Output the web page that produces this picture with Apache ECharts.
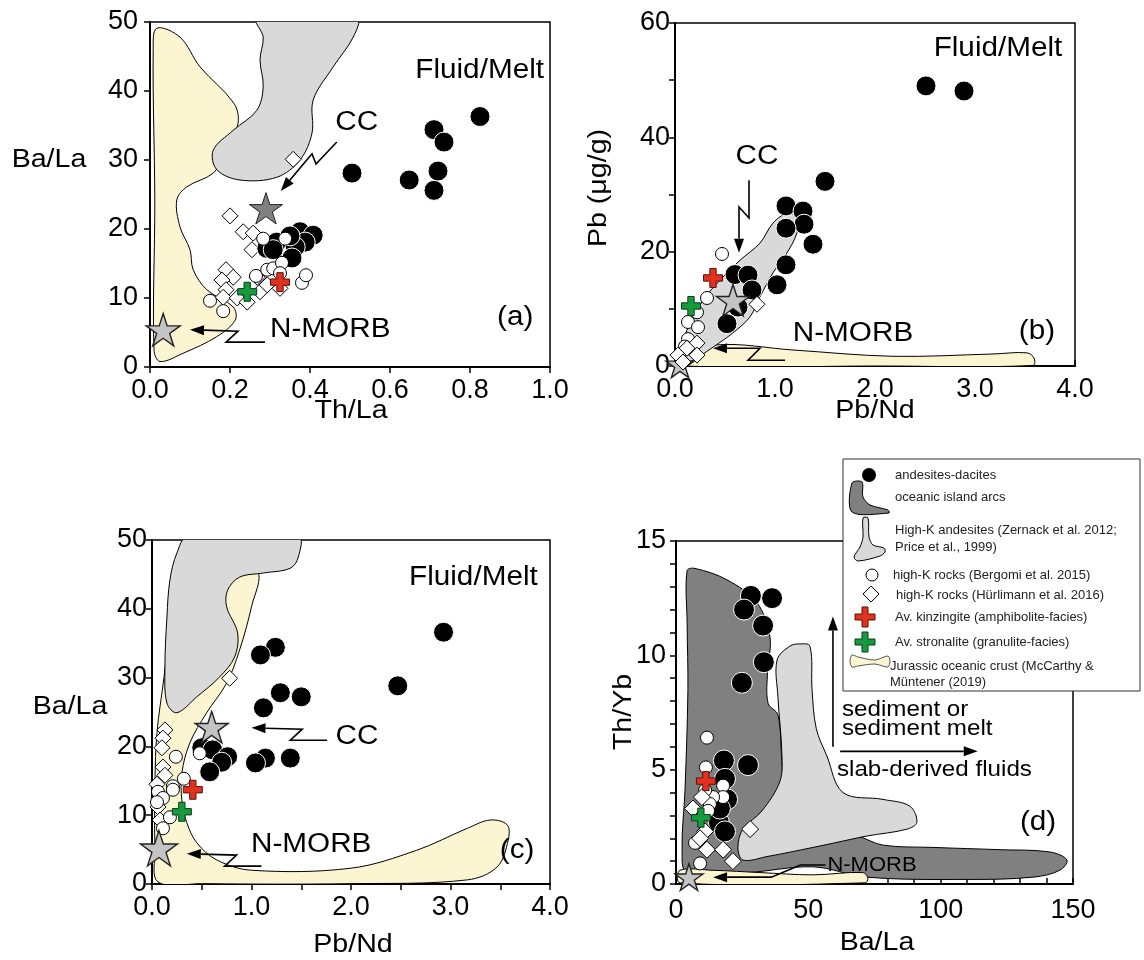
<!DOCTYPE html>
<html>
<head>
<meta charset="utf-8">
<script src="https://cdn.jsdelivr.net/npm/echarts@6/dist/echarts.min.js"></script>
<style>
  html, body { margin: 0; padding: 0; background: #fff; }
  #chart { width: 1144px; height: 960px; }
</style>
</head>
<body>
<div id="chart"></div>
<script>
// ---------- (a) Th/La vs Ba/La ----------
const aBlack = [[0.505,28.1],[0.648,27.1],[0.71,34.4],[0.735,32.6],[0.72,28.4],[0.71,25.6],[0.825,36.3],
  [0.292,17.2],[0.317,18.1],[0.375,19.6],[0.408,19.1],[0.388,18.1],[0.363,17.4],[0.355,15.8],[0.308,17.0],[0.35,19.0]];
const aWhite = [[0.15,9.6],[0.183,8.1],[0.283,18.6],[0.338,18.6],[0.265,13.2],[0.293,14.1],[0.308,14.3],
  [0.33,15.1],[0.38,12.2],[0.39,13.3],[0.325,13.6]];
const aDiamond = [[0.358,30.1],[0.2,21.9],[0.233,19.6],[0.258,19.4],[0.255,17.0],[0.19,14.1],[0.208,13.0],
  [0.18,12.6],[0.19,11.2],[0.183,10.1],[0.218,10.0],[0.243,9.4],[0.275,10.9],[0.293,11.9],[0.325,11.4],[0.268,13.0]];
const aKinzingite = [[0.325,12.3]];
const aStronalite = [[0.243,10.9]];
const aCC = [[0.29,23.0]];
const aNMORB = [[0.033,5.4]];
const aJurassic = [[0.017,49.1],[0.075,47.8],[0.125,43.5],[0.21,38.2],[0.22,35.3],[0.19,31],[0.158,28.1],
  [0.092,26.1],[0.067,24.2],[0.075,20.3],[0.1,17],[0.108,14.1],[0.142,11.2],[0.208,8.7],[0.213,6.8],
  [0.167,4.4],[0.083,2.0],[0.025,0.8],[0.01,2.5],[0.012,24],[0.008,46]];
const aHighK = [[0.267,50.5],[0.517,50.5],[0.508,47.8],[0.458,43.5],[0.408,38.7],[0.405,33.9],[0.375,30],
  [0.317,27.5],[0.225,27.1],[0.167,28.6],[0.158,31.4],[0.208,34.3],[0.267,37.2],[0.283,40.6],[0.275,44.5],[0.283,47.8]];

// ---------- (b) Pb/Nd vs Pb ----------
const bBlack = [[2.51,49],[2.89,48.1],[1.5,32.3],[1.11,28],[1.28,27.1],[1.29,24.8],[1.11,24.1],[1.38,21.3],
  [1.11,17.7],[1.02,14.2],[0.6,16.0],[0.73,15.9],[0.77,13.3],[0.63,10.3],[0.52,7.4]];
const bWhite = [[0.47,19.6],[0.32,11.9],[0.22,9.4],[0.13,7.7],[0.23,6.8],[0.13,4.7],[0.1,3.4]];
const bDiamond = [[0.82,10.8],[0.22,4.0],[0.12,3.1],[0.22,1.9],[0.03,1.9],[0.08,0.7]];
const bKinzingite = [[0.38,15.4]];
const bStronalite = [[0.16,10.5]];
const bCC = [[0.58,11.5]];
const bNMORB = [[0.05,0.3]];
const bHighK = [[0.02,0.5],[0.12,6.3],[0.28,11.5],[0.45,15],[0.65,18.5],[0.85,21.5],[0.98,25],[1.12,26.7],
  [1.23,26],[1.22,23.3],[1.12,19.8],[0.98,16.3],[0.85,12.1],[0.75,8.6],[0.58,5.8],[0.38,3.3],[0.18,1.0],[0.05,0.2]];
const bJurassic = [[0.12,1.4],[0.42,3.7],[1.18,2.8],[2.18,1.7],[3.18,2.1],[3.52,2.3],[3.59,1.4],[3.58,0.1],[2,0],[0.1,0]];

// ---------- (c) Pb/Nd vs Ba/La ----------
const cBlack = [[2.93,36.6],[2.47,28.8],[1.24,34.4],[1.09,33.3],[1.29,27.8],[1.5,27.2],[1.12,25.6],[1.14,18.3],
  [1.39,18.3],[1.04,17.6],[0.5,19.8],[0.61,19.5],[0.76,18.5],[0.7,17.7],[0.58,16.3]];
const cWhite = [[0.24,18.5],[0.48,19.0],[0.32,15.3],[0.21,14.2],[0.06,13.4],[0.11,12.5],[0.05,11.9],
  [0.18,9.7],[0.11,8.1],[0.21,13.7]];
const cDiamond = [[0.78,29.9],[0.13,22.4],[0.11,21.2],[0.1,19.8],[0.11,17.0],[0.13,15.8],[0.06,11.2],[0.08,9.3],[0.05,14.5]];
const cKinzingite = [[0.41,13.7]];
const cStronalite = [[0.3,10.5]];
const cCC = [[0.6,22.8]];
const cNMORB = [[0.07,5.2]];
const cJurassic = [[0.06,0.3],[0.03,5],[0.03,15],[0.05,22],[0.12,30],[0.2,40],[0.3,47],[0.7,46],[1.06,45.4],
  [1.0,40.3],[0.88,34],[0.75,29.2],[0.55,24.9],[0.38,20.5],[0.3,16.1],[0.3,12.2],[0.35,8.9],[0.45,6],
  [0.65,3.5],[1.0,2.0],[2.0,2.3],[2.66,4.9],[3.17,8.1],[3.4,9.3],[3.57,8.6],[3.58,6.4],[3.47,2.5],
  [3.17,0.6],[2.0,0.05],[0.5,0.05]];
const cHighK = [[0.36,50.5],[1.47,50.5],[1.47,47.5],[1.39,45.9],[1.12,45.2],[0.88,44.6],[0.76,42.7],[0.75,40.3],
  [0.86,36.5],[0.83,33],[0.68,30.1],[0.45,27.2],[0.25,24.9],[0.15,26.3],[0.13,31.5],[0.15,38.8],[0.18,44.2],[0.25,48.1]];

// ---------- (d) Ba/La vs Th/Yb ----------
const dBlack = [[28.3,12.6],[36.3,12.5],[25.7,12.0],[32.9,11.3],[33.2,9.7],[24.9,8.8],[18.1,5.4],[27.2,5.2],
  [18.5,4.6],[19.3,3.7],[16.2,2.7],[18.5,2.3],[16.6,3.3]];
const dWhite = [[11.7,6.4],[11.3,5.1],[17.8,4.3],[17.8,3.8],[14,3.8],[12.8,3.5],[12.1,3.2],[7.2,1.8],[9.1,0.9],[11,4.1]];
const dDiamond = [[28,2.4],[6.4,3.3],[11,2.3],[11.7,1.5],[17.8,1.5],[21.5,1.0],[9.1,2.0],[9.8,3.8]];
const dKinzingite = [[11.3,4.5]];
const dStronalite = [[9.4,2.9]];
const dNMORB = [[4.9,0.3]];
const dIslandArcs = [[4.2,13.7],[7.2,13.8],[19.3,13.3],[30.6,12.3],[35.5,10.8],[34.6,9.3],[34.8,7.9],[38.5,7.4],
  [40,5.4],[42,3],[55,2.3],[68.4,2.1],[78.2,1.7],[97.1,1.6],[122.4,1.5],[141.3,1.4],[147.7,1.05],[145,0.6],
  [135,0.3],[110,0.2],[72,0.3],[51.8,0.75],[26.8,0.5],[4.2,0.5],[2.3,1.5],[3.4,4.1],[4.5,8.5],[4.2,11.4]];
const dHighK = [[46.8,10.5],[50.6,10.4],[51.4,8.5],[53,6.8],[57,5.6],[63.1,4.0],[78.2,3.7],[88.4,3.4],[91,2.7],
  [87.3,2.4],[72.2,2.1],[60,1.8],[51.8,1.6],[34.4,1.2],[25.3,1.05],[23.4,1.6],[25.3,2.4],[32.5,3.2],
  [39.3,4.5],[40,5.7],[38.5,8.2],[38.2,9.8],[43,10.4]];
const dJurassic = [[1.5,0.6],[14,0.6],[31.7,0.5],[51.8,0.4],[70.6,0.5],[72.5,0.26],[71.4,0.05],[1.5,0.05]];

// ---------- annotation arrows (data coordinates) ----------
const aArrowCC = [[0.467,32.6],[0.415,29.4],[0.405,30.9],[0.327,25.5]];
const aArrowNMORB = [[0.2875,3.6],[0.19,3.6],[0.22,5.2],[0.1,5.4]];
const bArrowCC = [[0.74,32.5],[0.74,25.9],[0.64,27.8],[0.64,19.8]];
const bArrowNMORB = [[1.1,1.0],[0.73,1.0],[0.85,3.1],[0.38,3.1]];
const cArrowCC = [[1.76,20.9],[1.39,20.9],[1.51,22.5],[1.0,22.7]];
const cArrowNMORB = [[1.1,2.6],[0.73,2.6],[0.85,4.2],[0.35,4.4]];
const dArrowNMORB = [[56.5,0.83],[47,0.83],[36,0.3],[14,0.3]];
const dArrowSediment = [[59.3,6.0],[59.3,11.7]];
const dArrowFluids = [[62,5.8],[114,5.8]];

const FONT = "'Liberation Sans', Arial, Helvetica, sans-serif";
const WIDE = 1.1; // horizontal stretch of the heavier lettering
const STAR = 'path://M0,-10L2.245,-3.09L9.51,-3.09L3.633,1.18L5.878,8.09L0,3.82L-5.878,8.09L-3.633,1.18L-9.51,-3.09L-2.245,-3.09Z';
const CROSS = 'path://M-3,-9L3,-9L3,-3L9,-3L9,3L3,3L3,9L-3,9L-3,3L-9,3L-9,-3L-3,-3Z';

const COL = {
  yellow: '#fcf5d2', light: '#d9d9d9', dark: '#808080',
  red: '#e2321f', green: '#169a3e'
};

function fmtDec(v) { return Math.abs(v % 1) < 1e-9 ? v.toFixed(1) : ''; }

function axis(gi, min, max, interval, fmt, inside, margin) {
  return {
    type: 'value', gridIndex: gi, min: min, max: max, interval: interval,
    axisLine: { show: true, onZero: false, lineStyle: { color: '#000', width: 2 } },
    axisTick: { show: true, inside: !!inside, length: 6, lineStyle: { color: '#000', width: 1.5 } },
    axisLabel: { fontSize: 27, color: '#000', fontFamily: FONT, margin: margin, formatter: fmt },
    splitLine: { show: false }
  };
}

function field(gi, verts, fill, z) {
  return {
    type: 'custom', xAxisIndex: gi, yAxisIndex: gi, z: z, silent: true, clip: true,
    data: verts,
    renderItem: function (params, api) {
      if (params.dataIndex !== 0) return null;
      return {
        type: 'polygon',
        shape: { points: verts.map(function (v) { return api.coord(v); }), smooth: 0.35 },
        style: { fill: fill, stroke: '#000', lineWidth: 1 }
      };
    }
  };
}

function arrow(gi, pts, z) {
  return {
    type: 'custom', xAxisIndex: gi, yAxisIndex: gi, z: z || 30, silent: true, clip: false,
    data: pts,
    renderItem: function (params, api) {
      if (params.dataIndex !== 0) return null;
      const p = pts.map(function (v) { return api.coord(v); });
      const a = p[p.length - 2], b = p[p.length - 1];
      const ang = Math.atan2(b[1] - a[1], b[0] - a[0]);
      const L = 14, W = 5;
      const bx = b[0] - L * Math.cos(ang), by = b[1] - L * Math.sin(ang);
      const head = [[b[0], b[1]],
        [bx + W * Math.sin(ang), by - W * Math.cos(ang)],
        [bx - W * Math.sin(ang), by + W * Math.cos(ang)]];
      const line = p.slice(0, -1).concat([[bx, by]]);
      return {
        type: 'group', children: [
          { type: 'polyline', shape: { points: line }, style: { stroke: '#000', lineWidth: 1.6, fill: null } },
          { type: 'polygon', shape: { points: head }, style: { fill: '#000' } }
        ]
      };
    }
  };
}

function labels(gi, items) {
  return {
    type: 'custom', xAxisIndex: gi, yAxisIndex: gi, z: 40, silent: true, clip: false,
    data: items.map(function (t) { return t.at; }),
    renderItem: function (params, api) {
      const t = items[params.dataIndex];
      const p = api.coord(t.at);
      return {
        type: 'text', x: p[0], y: p[1], scaleX: WIDE,
        style: {
          text: t.text, fill: '#000', fontSize: t.size || 27, fontFamily: FONT,
          align: t.align || 'center', verticalAlign: 'middle', lineHeight: t.lh || null
        }
      };
    }
  };
}

const MARK = {
  black: { symbol: 'circle', size: 20, color: '#000', border: '#fff', bw: 1 },
  white: { symbol: 'circle', size: 13, color: '#fff', border: '#000', bw: 1 },
  diamond: { symbol: 'diamond', size: 16, color: '#fff', border: '#000', bw: 1 },
  red: { symbol: CROSS, size: 19, color: COL.red, border: '#5a1208', bw: 1 },
  green: { symbol: CROSS, size: 19, color: COL.green, border: '#0b3d1a', bw: 1 },
  starDark: { symbol: STAR, size: 33, color: '#808080', border: '#222', bw: 1 },
  starLight: { symbol: STAR, size: 34, color: '#c4c4c4', border: '#222', bw: 1.4 }
};

function points(gi, data, kind, z, size) {
  const m = MARK[kind];
  return {
    type: 'scatter', xAxisIndex: gi, yAxisIndex: gi, z: z, silent: true, clip: false,
    symbol: m.symbol, symbolSize: size || m.size, symbolKeepAspect: true,
    itemStyle: { color: m.color, borderColor: m.border, borderWidth: m.bw, opacity: 1 },
    data: data
  };
}

const grids = [
  { left: 150, top: 22, width: 400, height: 345 },
  { left: 675, top: 23, width: 400, height: 343 },
  { left: 152, top: 540, width: 398, height: 344 },
  { left: 676, top: 541, width: 397, height: 343 }
].map(function (g) {
  return Object.assign({ show: true, borderColor: '#000', borderWidth: 1.5, backgroundColor: '#fff' }, g);
});

const xAxes = [
  axis(0, 0, 1, 0.2, function (v) { return v.toFixed(1); }, false, 10),
  axis(1, 0, 4, 0.5, fmtDec, true, 10),
  axis(2, 0, 4, 0.5, fmtDec, false, 10),
  axis(3, 0, 150, 10, function (v) { return v % 50 === 0 ? String(v) : ''; }, true, 13)
];
const yAxes = [
  axis(0, 0, 50, 10, null, false, 12),
  axis(1, 0, 60, 10, function (v) { return v % 20 === 0 ? String(v) : ''; }, false, 5),
  axis(2, 0, 50, 10, null, false, 5),
  axis(3, 0, 15, 1, function (v) { return v % 5 === 0 ? String(v) : ''; }, false, 10)
];

const series = [
  // fields
  field(0, aJurassic, COL.yellow, 1), field(0, aHighK, COL.light, 2),
  field(1, bJurassic, COL.yellow, 1), field(1, bHighK, COL.light, 2),
  field(2, cJurassic, COL.yellow, 1), field(2, cHighK, COL.light, 2),
  field(3, dIslandArcs, COL.dark, 1), field(3, dHighK, COL.light, 2), field(3, dJurassic, COL.yellow, 3),

  // (a)
  points(0, aDiamond, 'diamond', 10), points(0, aBlack, 'black', 11), points(0, aWhite, 'white', 12),
  points(0, aKinzingite, 'red', 13), points(0, aStronalite, 'green', 13),
  points(0, aCC, 'starDark', 14), points(0, aNMORB, 'starLight', 14),
  // (b)
  points(1, bBlack, 'black', 10), points(1, bWhite, 'white', 11), points(1, bDiamond, 'diamond', 12),
  points(1, bKinzingite, 'red', 13), points(1, bStronalite, 'green', 13),
  points(1, bCC, 'starLight', 14, 33), points(1, bNMORB, 'starLight', 9, 28),
  // (c)
  points(2, cDiamond, 'diamond', 10), points(2, cBlack, 'black', 11), points(2, cWhite, 'white', 12),
  points(2, cKinzingite, 'red', 13), points(2, cStronalite, 'green', 13),
  points(2, cCC, 'starLight', 14, 33), points(2, cNMORB, 'starLight', 14, 37),
  // (d)
  points(3, dBlack, 'black', 10, 21), points(3, dWhite, 'white', 11), points(3, dDiamond, 'diamond', 12, 17),
  points(3, dKinzingite, 'red', 13), points(3, dStronalite, 'green', 13),
  points(3, dNMORB, 'starLight', 14, 28),

  // arrows
  arrow(0, aArrowCC), arrow(0, aArrowNMORB),
  arrow(1, bArrowCC), arrow(1, bArrowNMORB),
  arrow(2, cArrowCC), arrow(2, cArrowNMORB),
  arrow(3, dArrowNMORB, 8), arrow(3, dArrowSediment), arrow(3, dArrowFluids),

  // text annotations
  labels(0, [
    { at: [0.985, 43], text: 'Fluid/Melt', align: 'right' },
    { at: [0.517, 35.5], text: 'CC' },
    { at: [0.3, 5.4], text: 'N-MORB', align: 'left' },
    { at: [0.913, 7.1], text: '(a)' }
  ]),
  labels(1, [
    { at: [3.23, 55.6], text: 'Fluid/Melt' },
    { at: [0.82, 36.7], text: 'CC' },
    { at: [1.78, 5.7], text: 'N-MORB' },
    { at: [3.62, 6], text: '(b)' }
  ]),
  labels(2, [
    { at: [3.23, 44.6], text: 'Fluid/Melt' },
    { at: [2.06, 21.5], text: 'CC' },
    { at: [1.6, 5.7], text: 'N-MORB' },
    { at: [3.67, 4.9], text: '(c)' }
  ]),
  labels(3, [
    { at: [62.7, 7.2], text: 'sediment or\nsediment melt', align: 'left', size: 22, lh: 19 },
    { at: [60.8, 5.0], text: 'slab-derived fluids', align: 'left', size: 22 },
    { at: [57.2, 0.8], text: 'N-MORB', align: 'left', size: 20 },
    { at: [136.8, 2.7], text: '(d)' }
  ])
];

function gText(x, y, text, size, rot, align, sx) {
  return {
    type: 'text', x: x, y: y, rotation: rot || 0, scaleX: sx || 1, z: 50,
    style: {
      text: text, fill: '#000', fontSize: size, fontFamily: FONT,
      align: align || 'center', verticalAlign: 'middle',
      textAlign: align || 'center', textVerticalAlign: 'middle'
    }
  };
}

// legend box with hand-drawn keys
const LX = 895, LFS = 13;
const legendEls = [
  { type: 'rect', z: 60, shape: { x: 843, y: 459, width: 297, height: 232 }, style: { fill: '#fff', stroke: '#333', lineWidth: 1 } },
  { type: 'circle', z: 61, shape: { cx: 869, cy: 475, r: 7 }, style: { fill: '#000' } },
  { type: 'polygon', z: 61, shape: { points: [[852,483],[862,482],[863,497],[870,505],[888,510],[889,513],[852,512]], smooth: 0.3 }, style: { fill: COL.dark, stroke: '#000', lineWidth: 1 } },
  { type: 'polygon', z: 61, shape: { points: [[863,518],[868,518],[869,537],[873,545],[884,548],[885,552],[880,556],[858,561],[854,557],[860,547],[863,537]], smooth: 0.3 }, style: { fill: COL.light, stroke: '#000', lineWidth: 1 } },
  { type: 'circle', z: 61, shape: { cx: 872, cy: 575, r: 6 }, style: { fill: '#fff', stroke: '#000', lineWidth: 1 } },
  { type: 'polygon', z: 61, shape: { points: [[871,586],[879,594],[871,602],[863,594]] }, style: { fill: '#fff', stroke: '#000', lineWidth: 1 } },
  { type: 'polygon', z: 61, shape: { points: [[862,607],[868,607],[868,614],[875,614],[875,620],[868,620],[868,627],[862,627],[862,620],[855,620],[855,614],[862,614]] }, style: { fill: COL.red, stroke: '#5a1208', lineWidth: 1 } },
  { type: 'polygon', z: 61, shape: { points: [[862,632],[868,632],[868,639],[875,639],[875,645],[868,645],[868,652],[862,652],[862,645],[855,645],[855,639],[862,639]] }, style: { fill: COL.green, stroke: '#0b3d1a', lineWidth: 1 } },
  { type: 'polygon', z: 61, shape: { points: [[852,655],[858,657],[875,660],[888,656],[890,661],[888,667],[875,664],[858,666],[852,667],[850,661]], smooth: 0.3 }, style: { fill: COL.yellow, stroke: '#555', lineWidth: 1 } }
];
const legendTexts = [
  [LX, 475, 'andesites-dacites'],
  [LX, 497, 'oceanic island arcs'],
  [LX, 530, 'High-K andesites (Zernack et al. 2012;'],
  [LX, 547, 'Price et al., 1999)'],
  [893, 575, 'high-K rocks (Bergomi et al. 2015)'],
  [896, 595, 'high-K rocks (Hürlimann et al. 2016)'],
  [LX, 617, 'Av. kinzingite (amphibolite-facies)'],
  [LX, 642, 'Av. stronalite (granulite-facies)'],
  [890, 666, 'Jurassic oceanic crust (McCarthy &'],
  [890, 682, 'Müntener (2019)']
].map(function (t) {
  const e = gText(t[0], t[1], t[2], LFS, 0, 'left');
  e.z = 62; e.style.fill = '#222';
  return e;
});

const axisNames = [
  gText(49, 160, 'Ba/La', 26, 0, 'center', WIDE),
  gText(351, 411, 'Th/La', 26, 0, 'center', WIDE),
  gText(599, 188, 'Pb (μg/g)', 26, Math.PI / 2, 'center', WIDE),
  gText(875, 411, 'Pb/Nd', 26, 0, 'center', WIDE),
  gText(70, 707, 'Ba/La', 26, 0, 'center', WIDE),
  gText(353, 945, 'Pb/Nd', 26, 0, 'center', WIDE),
  gText(624, 712, 'Th/Yb', 26, Math.PI / 2, 'center', WIDE),
  gText(877, 943, 'Ba/La', 26, 0, 'center', WIDE)
];

const chart = echarts.init(document.getElementById('chart'), null, { renderer: 'canvas' });
chart.setOption({
  animation: false,
  backgroundColor: '#fff',
  textStyle: { fontFamily: FONT },
  grid: grids,
  xAxis: xAxes,
  yAxis: yAxes,
  series: series,
  graphic: { elements: axisNames.concat(legendEls, legendTexts) }
});
</script>
</body>
</html>
